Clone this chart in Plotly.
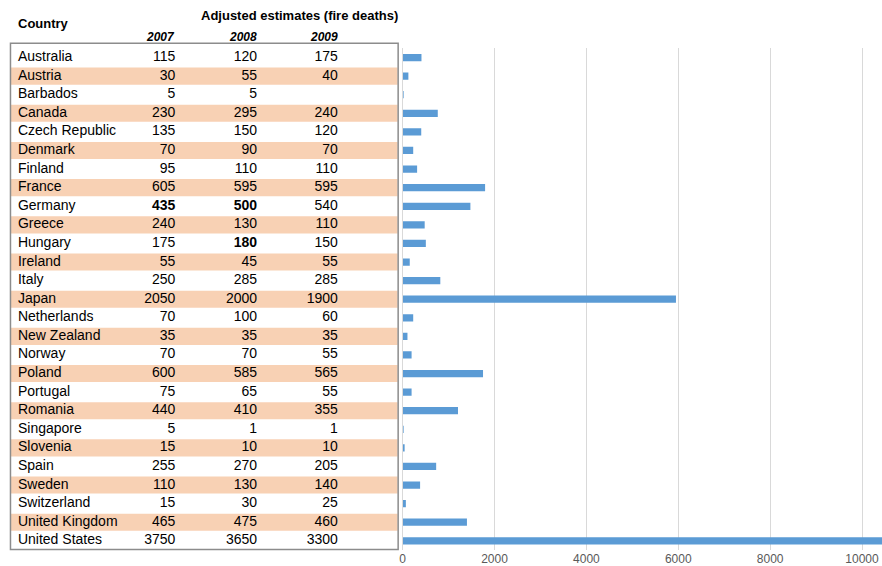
import plotly.graph_objects as go

countries = ["Australia", "Austria", "Barbados", "Canada", "Czech Republic", "Denmark",
             "Finland", "France", "Germany", "Greece", "Hungary", "Ireland", "Italy",
             "Japan", "Netherlands", "New Zealand", "Norway", "Poland", "Portugal",
             "Romania", "Singapore", "Slovenia", "Spain", "Sweden", "Switzerland",
             "United Kingdom", "United States"]
deaths_2007 = [115, 30, 5, 230, 135, 70, 95, 605, 435, 240, 175, 55, 250, 2050, 70, 35,
               70, 600, 75, 440, 5, 15, 255, 110, 15, 465, 3750]
deaths_2008 = [120, 55, 5, 295, 150, 90, 110, 595, 500, 130, 180, 45, 285, 2000, 100, 35,
               70, 585, 65, 410, 1, 10, 270, 130, 30, 475, 3650]
deaths_2009 = [175, 40, None, 240, 120, 70, 110, 595, 540, 110, 150, 55, 285, 1900, 60, 35,
               55, 565, 55, 355, 1, 10, 205, 140, 25, 460, 3300]
years = ["2007", "2008", "2009"]
# cells shown in bold in the source table: (country, year)
bold_cells = [("Germany", "2007"), ("Germany", "2008"), ("Hungary", "2008")]
x_ticks = [0, 2000, 4000, 6000, 8000, 10000]
x_tick_labels = [str(t) for t in x_ticks]

W, H = 882, 566
FONT = "Liberation Sans, Arial, sans-serif"
PEACH = "#F8D1B4"
BLUE = "#5B9BD5"

n = len(countries)
series = [deaths_2007, deaths_2008, deaths_2009]
totals = [sum(v for v in vals if v is not None) for vals in zip(*series)]

# layout geometry (pixels)
row_top, row_h = 48.6, 18.72
plot_top = row_top
plot_bot = row_top + n * row_h
y_dom = [1 - plot_bot / H, 1 - plot_top / H]
table_w = 400
col_right = [173, 255, 336]
country_x = 15

fig = go.Figure()

# bar chart of totals
fig.add_trace(go.Bar(
    x=totals, y=countries, orientation="h", marker=dict(color=BLUE, line=dict(width=0)),
    width=0.39, xaxis="x", yaxis="y", showlegend=False, hoverinfo="x+y"))

# table text
fig.add_trace(go.Scatter(
    x=[country_x] * n, y=countries, text=countries, mode="text",
    textposition="middle right", textfont=dict(family=FONT, size=14, color="#000"),
    xaxis="x2", yaxis="y", showlegend=False, hoverinfo="skip"))
for yr, vals, xr in zip(years, series, col_right):
    txt = []
    for c, v in zip(countries, vals):
        if v is None:
            txt.append("")
        elif (c, yr) in bold_cells:
            txt.append(f"<b>{v}</b>")
        else:
            txt.append(str(v))
    fig.add_trace(go.Scatter(
        x=[xr] * n, y=countries, text=txt, mode="text",
        textposition="middle left", textfont=dict(family=FONT, size=14, color="#000"),
        xaxis="x2", yaxis="y", showlegend=False, hoverinfo="skip"))

shapes = []
for i in range(n):
    if i % 2 == 1:
        shapes.append(dict(type="rect", xref="paper", yref="y",
                           x0=8 / W, x1=396 / W, y0=i - 0.46, y1=i + 0.46,
                           fillcolor=PEACH, line=dict(width=0), layer="below"))
shapes.append(dict(type="rect", xref="paper", yref="paper",
                   x0=7.5 / W, x1=396.5 / W, y0=1 - 553.5 / H, y1=1 - 43.5 / H,
                   line=dict(color="#8C8C8C", width=1.5), fillcolor="rgba(0,0,0,0)"))

annotations = [
    dict(text="<b>Country</b>", xref="paper", yref="paper", x=13 / W, y=1 - 24 / H,
         xanchor="left", yanchor="middle", showarrow=False,
         font=dict(family=FONT, size=13, color="#000")),
    dict(text="<b>Adjusted estimates (fire deaths)</b>", xref="paper", yref="paper",
         x=398 / W, y=1 - 16 / H, xanchor="right", yanchor="middle", showarrow=False,
         font=dict(family=FONT, size=13, color="#000")),
]
for yr, xr in zip(years, col_right):
    annotations.append(dict(text=f"<b><i>{yr}</i></b>", xref="x2", yref="paper",
                            x=xr + 2, y=1 - 37 / H, xanchor="right", yanchor="middle",
                            showarrow=False, font=dict(family=FONT, size=12, color="#000")))

fig.update_layout(
    width=W, height=H, margin=dict(l=0, r=0, t=0, b=0),
    paper_bgcolor="white", plot_bgcolor="rgba(0,0,0,0)",
    xaxis=dict(domain=[401 / W, 1], range=[0, 10435], tickvals=x_ticks,
               ticktext=x_tick_labels,
               showgrid=True, gridcolor="#D9D9D9", gridwidth=1, zeroline=False,
               showline=False, ticks="", anchor="y",
               tickfont=dict(family=FONT, size=12, color="#595959")),
    xaxis2=dict(domain=[0, table_w / W], range=[0, table_w], visible=False, anchor="y"),
    yaxis=dict(domain=y_dom, type="category", categoryorder="array",
               categoryarray=countries, range=[n - 0.5, -0.5],
               showticklabels=False, showgrid=False, zeroline=False,
               showline=True, linecolor="#D9D9D9", linewidth=1, ticks="", anchor="x"),
    shapes=shapes, annotations=annotations, bargap=0.6,
)

fig.write_html(
    "out.html",
    config={"displayModeBar": False},
    post_script=("document.documentElement.style.overflow='hidden';"
                 "document.body.style.margin='0px';"
                 "var gd=document.getElementById('{plot_id}');"
                 "gd.style.position='fixed';gd.style.top='0px';gd.style.left='0px';"))
